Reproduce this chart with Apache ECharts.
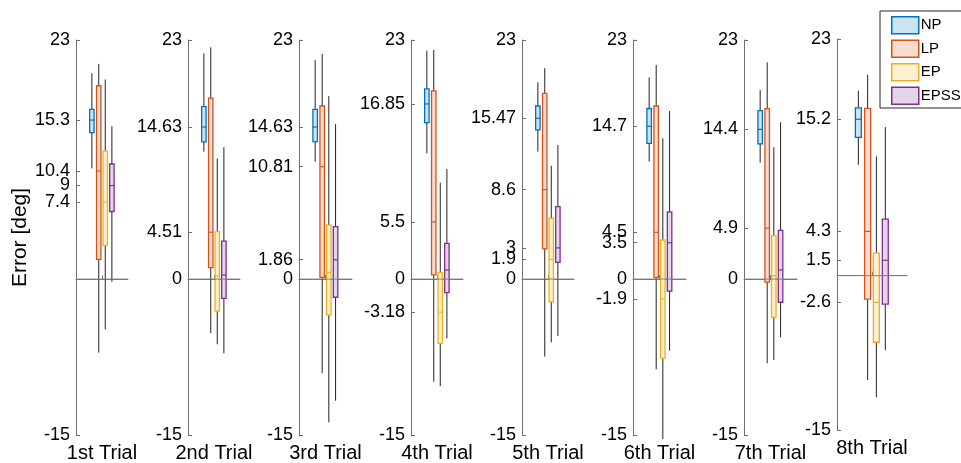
<!DOCTYPE html>
<html>
<head>
<meta charset="utf-8">
<script src="https://cdn.jsdelivr.net/npm/echarts@6/dist/echarts.min.js"></script>
<style>
  html, body { margin: 0; padding: 0; background: #fff; }
  #main { width: 961px; height: 463px; }
</style>
</head>
<body>
<div id="main"></div>
<script>
// trial names (x labels)
var trialNames = ['1st Trial', '2nd Trial', '3rd Trial', '4th Trial', '5th Trial', '6th Trial', '7th Trial', '8th Trial'];

// y tick labels of every panel
var tickValues = [
    [23, 15.3, 10.4, 9, 7.4, -15],
    [23, 14.63, 4.51, 0, -15],
    [23, 14.63, 10.81, 1.86, 0, -15],
    [23, 16.85, 5.5, 0, -3.18, -15],
    [23, 15.47, 8.6, 3, 1.9, 0, -15],
    [23, 14.7, 4.5, 3.5, 0, -1.9, -15],
    [23, 14.4, 4.9, 0, -15],
    [23, 15.2, 4.3, 1.5, -2.6, -15]
];

var methods = ['NP', 'LP', 'EP', 'EPSS'];

// [min, q1, median, q3, max] for each trial
var npData = [
    [10.65, 14.08, 15.3, 16.33, 19.8],
    [12.26, 13.2, 14.63, 16.6, 21.7],
    [11.3, 13.22, 14.63, 16.33, 21.08],
    [12.1, 15.05, 16.85, 18.29, 21.97],
    [12.26, 14.35, 15.47, 16.65, 18.93],
    [11.3, 13.06, 14.7, 16.41, 19.4],
    [11.2, 13.0, 14.4, 16.2, 18.2],
    [10.78, 13.43, 15.2, 16.3, 17.98]
];
var lpData = [
    [-7.08, 1.9, 10.4, 18.6, 20.7],
    [-5.2, 1.1, 4.51, 17.4, 22.3],
    [-9.06, 0.17, 10.81, 16.65, 21.65],
    [-9.87, 0.4, 5.5, 18.1, 22.04],
    [-7.46, 2.9, 8.6, 17.87, 20.28],
    [-8.68, 0.17, 4.5, 16.65, 20.6],
    [-8.1, -0.3, 4.9, 16.4, 20.85],
    [-10.14, -2.29, 4.3, 16.26, 19.53]
];
var epData = [
    [-4.83, 3.25, 7.4, 12.3, 19.2],
    [-6.28, -3.07, 0.3, 4.56, 11.6],
    [-13.78, -3.45, 0.65, 5.2, 17.6],
    [-10.3, -6.18, -3.18, 0.65, 9.28],
    [-6.08, -2.18, 1.9, 5.85, 10.9],
    [-15.4, -7.6, -1.9, 3.76, 13.54],
    [-7.78, -3.67, 0.33, 4.18, 12.68],
    [-11.82, -6.47, -2.6, 2.19, 11.59]
];
var epssData = [
    [-0.25, 6.5, 9, 11.07, 14.7],
    [-7.14, -1.85, 0.4, 3.66, 12.68],
    [-11.7, -1.75, 1.86, 5.04, 14.9],
    [-5.7, -1.3, 0.88, 3.44, 10.57],
    [-5.47, 1.6, 3, 6.97, 12.9],
    [-6.89, -1.15, 3.5, 6.46, 16.17],
    [-5.6, -2.23, 0.88, 4.69, 15.1],
    [-7.22, -2.77, 1.5, 5.5, 14.44]
];
var allData = [npData, lpData, epData, epssData];

// styles
var strokeColors = ['#0072BD', '#D95319', '#EDB120', '#7E2F8E'];
var fillColors = ['#cce3f2', '#f7ddd1', '#fbf0d2', '#e5d5e8'];
var boxOffsets = [-0.78, -0.25, 0.25, 0.76];
var boxWidth = 0.34;
var fontFamily = '"Liberation Sans", Arial, Helvetica, sans-serif';

// panel layout
var gridLefts = [76, 188, 299, 411, 522, 633, 744, 837];
var gridWidths = [52, 52, 53, 52, 52, 53, 53, 70];
var gridTops = [40, 40, 40, 40, 40, 40, 40, 39];
var gridHeights = [395, 395, 395, 395, 395, 395, 395, 391];

var myChart = echarts.init(document.getElementById('main'), null, {renderer: 'canvas'});

// 画一个箱子
var makeRender = function (m) {
    return function (params, api) {
        var cx = api.coord([api.value(0) + boxOffsets[m], 0])[0];
        var w = api.size([boxWidth, 0])[0];
        var yMin = api.coord([0, api.value(1)])[1];
        var yQ1 = api.coord([0, api.value(2)])[1];
        var yMed = api.coord([0, api.value(3)])[1];
        var yQ3 = api.coord([0, api.value(4)])[1];
        var yMax = api.coord([0, api.value(5)])[1];
        var whisker = {stroke: '#222', lineWidth: 1};
        return {
            type: 'group',
            children: [
                {type: 'line', shape: {x1: cx, y1: yMax, x2: cx, y2: yQ3}, style: whisker},
                {type: 'line', shape: {x1: cx, y1: yQ1, x2: cx, y2: yMin}, style: whisker},
                {type: 'rect', shape: {x: cx - w / 2, y: yQ3, width: w, height: yQ1 - yQ3},
                    style: {fill: fillColors[m], stroke: strokeColors[m], lineWidth: 1.3}},
                {type: 'line', shape: {x1: cx - w / 2, y1: yMed, x2: cx + w / 2, y2: yMed},
                    style: {stroke: strokeColors[m], lineWidth: 1.2}}
            ]
        };
    };
};

var grids = [], xAxes = [], yAxes = [], series = [];
for (var k = 0; k < trialNames.length; k++) {
    grids.push({left: gridLefts[k], top: gridTops[k], width: gridWidths[k], height: gridHeights[k]});
    (function (k) {
        xAxes.push({
            gridIndex: k, type: 'value', min: 0, max: 4,
            axisLine: {show: true, lineStyle: {color: '#707070', width: 1}},
            axisTick: {show: true, inside: true, length: 4, customValues: [2], lineStyle: {color: '#707070'}},
            axisLabel: {show: true, customValues: [2], margin: 8, color: '#000', fontSize: 20, fontFamily: fontFamily,
                formatter: function () { return trialNames[k]; }},
            splitLine: {show: false}
        });
    })(k);
    yAxes.push({
        gridIndex: k, type: 'value', min: -15, max: 23,
        name: k === 0 ? 'Error [deg]' : '',
        nameLocation: 'middle', nameGap: 45, nameRotate: 90,
        nameTextStyle: {color: '#000', fontSize: 21, fontFamily: fontFamily},
        axisLine: {show: true, lineStyle: {color: '#707070', width: 1}},
        axisTick: {show: true, inside: true, length: 4, customValues: tickValues[k], lineStyle: {color: '#707070'}},
        axisLabel: {show: true, customValues: tickValues[k], margin: 6, color: '#000', fontSize: 18, fontFamily: fontFamily},
        splitLine: {show: false}
    });
    // 零线
    series.push({
        type: 'line', xAxisIndex: k, yAxisIndex: k, silent: true, symbol: 'none',
        data: [[0, 0], [4, 0]],
        lineStyle: {color: '#808080', width: 1}
    });
    for (var m = 0; m < methods.length; m++) {
        series.push({
            type: 'custom', name: methods[m], xAxisIndex: k, yAxisIndex: k,
            renderItem: makeRender(m),
            itemStyle: {color: fillColors[m], borderColor: strokeColors[m]},
            encode: {x: 0, y: [1, 2, 3, 4, 5]},
            data: [[2].concat(allData[m][k])],
            z: 3
        });
    }
}

var option = {
    animation: false,
    backgroundColor: '#fff',
    textStyle: {fontFamily: fontFamily},
    legend: {
        orient: 'vertical', left: 880, top: 11,
        itemWidth: 27, itemHeight: 17, itemGap: 5,
        padding: [5, 2, 3, 11],
        borderColor: '#262626', borderWidth: 1,
        textStyle: {color: '#000', fontSize: 15, fontFamily: fontFamily, padding: [0, 0, 0, -3]},
        data: methods.map(function (name, i) {
            return {name: name, icon: 'rect',
                itemStyle: {color: fillColors[i], borderColor: strokeColors[i], borderWidth: 1.5}};
        })
    },
    grid: grids,
    xAxis: xAxes,
    yAxis: yAxes,
    series: series
};
myChart.setOption(option);
</script>
</body>
</html>
